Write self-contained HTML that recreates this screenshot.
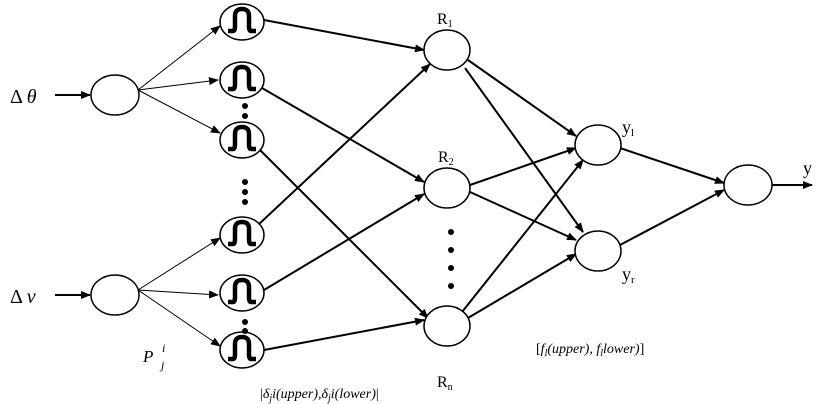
<!DOCTYPE html>
<html><head><style>body{margin:0;background:#fff}svg{display:block}</style></head><body>
<svg width="820" height="404" viewBox="0 0 820 404" xmlns="http://www.w3.org/2000/svg" font-family="Liberation Serif, serif">
<defs>
<marker id="a" markerWidth="10" markerHeight="8" refX="9" refY="4" orient="auto" markerUnits="userSpaceOnUse"><path d="M0,0 L10,4 L0,8 z" fill="#000"/></marker>
<g id="mf">
<ellipse cx="0" cy="0" rx="22" ry="18" fill="#fff" stroke="#000" stroke-width="1.5"/>
<path d="M-14,9 L-9,9 Q-7,9 -7,4 L-7,-6 Q-7,-13 0,-13 Q7,-13 7,-6 L7,4 Q7,9 9,9 L14,9" fill="none" stroke="#000" stroke-width="4.5"/>
</g>
</defs>
<g stroke="#000" fill="none">
<!-- input lines -->
<line x1="55" y1="95" x2="90" y2="95" stroke-width="2" marker-end="url(#a)"/>
<line x1="55" y1="295" x2="90" y2="295" stroke-width="2" marker-end="url(#a)"/>
<g stroke-width="1">
<line x1="138" y1="90" x2="220" y2="26" marker-end="url(#a)"/>
<line x1="138" y1="90" x2="218" y2="80" marker-end="url(#a)"/>
<line x1="138" y1="90" x2="220" y2="133" marker-end="url(#a)"/>
<line x1="138" y1="290" x2="220" y2="238" marker-end="url(#a)"/>
<line x1="138" y1="290" x2="218" y2="295" marker-end="url(#a)"/>
<line x1="138" y1="290" x2="220" y2="346" marker-end="url(#a)"/>
</g>
<g stroke-width="2">
<line x1="264" y1="20" x2="424" y2="50" marker-end="url(#a)"/>
<line x1="262" y1="88" x2="424" y2="182" marker-end="url(#a)"/>
<line x1="258" y1="148" x2="428" y2="318" marker-end="url(#a)"/>
<line x1="258" y1="225" x2="430" y2="64" marker-end="url(#a)"/>
<line x1="264" y1="290" x2="424" y2="194" marker-end="url(#a)"/>
<line x1="264" y1="350" x2="424" y2="320" marker-end="url(#a)"/>
<line x1="468" y1="60" x2="576" y2="136" marker-end="url(#a)"/>
<line x1="465" y1="68" x2="583" y2="232" marker-end="url(#a)"/>
<line x1="470" y1="185" x2="576" y2="148" marker-end="url(#a)"/>
<line x1="470" y1="192" x2="576" y2="240" marker-end="url(#a)"/>
<line x1="462" y1="312" x2="583" y2="160" marker-end="url(#a)"/>
<line x1="468" y1="318" x2="576" y2="254" marker-end="url(#a)"/>
<line x1="620" y1="148" x2="724" y2="183" marker-end="url(#a)"/>
<line x1="620" y1="245" x2="724" y2="190" marker-end="url(#a)"/>
<line x1="771" y1="185" x2="812" y2="185" marker-end="url(#a)"/>
</g>
<g fill="#fff" stroke-width="1.5">
<ellipse cx="115" cy="95" rx="24" ry="20"/>
<ellipse cx="115" cy="295" rx="24" ry="20"/>
<ellipse cx="447" cy="50" rx="23" ry="20"/>
<ellipse cx="447" cy="188" rx="23" ry="20"/>
<ellipse cx="447" cy="326" rx="23" ry="20"/>
<ellipse cx="598" cy="145" rx="23" ry="20"/>
<ellipse cx="598" cy="251" rx="23" ry="20"/>
<ellipse cx="748" cy="185" rx="24" ry="20"/>
</g>
</g>
<use href="#mf" x="242" y="22"/>
<use href="#mf" x="242" y="80"/>
<use href="#mf" x="242" y="140"/>
<use href="#mf" x="242" y="235"/>
<use href="#mf" x="242" y="293"/>
<use href="#mf" x="242" y="350"/>
<g fill="#000">
<circle cx="245" cy="106" r="3"/><circle cx="245" cy="116" r="3"/>
<circle cx="245" cy="182" r="3"/><circle cx="245" cy="192" r="3"/><circle cx="245" cy="202" r="3"/>
<circle cx="245" cy="322" r="3"/><circle cx="245" cy="331" r="3"/>
<circle cx="451" cy="232" r="3"/><circle cx="451" cy="250" r="3"/><circle cx="451" cy="268" r="3"/><circle cx="451" cy="286" r="3"/>
</g>
<g font-size="16" fill="#000">
<text x="10" y="103" font-size="20">Δ <tspan font-style="italic">θ</tspan></text>
<text x="10" y="303" font-size="20">Δ <tspan font-style="italic">ν</tspan></text>
<text x="437" y="24">R<tspan font-size="10" dy="3">1</tspan></text>
<text x="438" y="162">R<tspan font-size="10" dy="3">2</tspan></text>
<text x="437" y="387">R<tspan font-size="10" dy="3">n</tspan></text>
<text x="622" y="133" font-size="18">y<tspan font-size="11" dy="3">l</tspan></text>
<text x="622" y="280" font-size="18">y<tspan font-size="11" dy="3">r</tspan></text>
<text x="803" y="174" font-size="18">y</text>
<text x="143" y="362" font-style="italic" font-size="17">P</text>
<text x="162" y="352" font-style="italic" font-size="12">i</text>
<text x="161" y="369" font-style="italic" font-size="12">j</text>
<text x="260" y="398" font-size="14">|<tspan font-style="italic">δ<tspan font-size="10" dy="3">j</tspan><tspan dy="-3">i(upper),δ</tspan><tspan font-size="10" dy="3">j</tspan><tspan dy="-3">i(lower)</tspan></tspan>|</text>
<text x="536" y="353" font-size="14">[<tspan font-style="italic">f<tspan font-size="10" dy="3">l</tspan><tspan dy="-3">(upper), f</tspan><tspan font-size="10" dy="3">l</tspan><tspan dy="-3">lower)</tspan></tspan>]</text>
</g>
</svg>
</body></html>
